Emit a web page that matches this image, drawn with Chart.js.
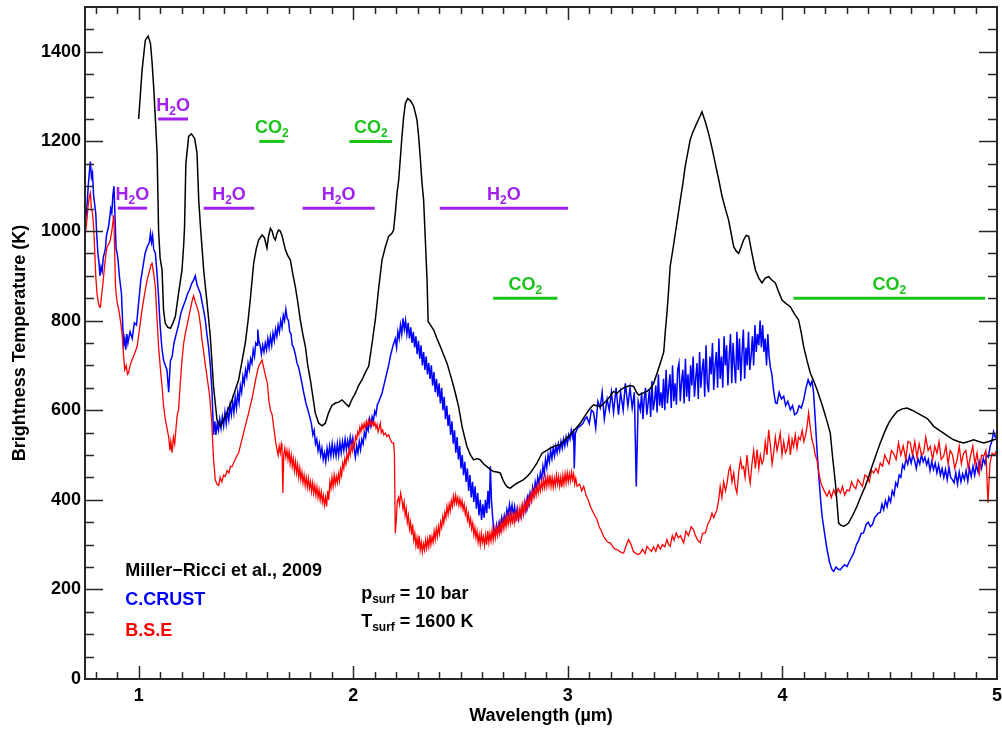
<!DOCTYPE html>
<html>
<head>
<meta charset="utf-8">
<script src="https://cdn.jsdelivr.net/npm/chart.js@4.4.1/dist/chart.umd.min.js"></script>
<style>
  html, body { margin: 0; padding: 0; background: #fff; }
  canvas { display: block; }
</style>
</head>
<body>
<canvas id="chart" width="1002" height="729"></canvas>
<script>
/* ---- data: [wavelength (um), brightness temperature (K)] ---- */
const blackCurve = [
  [1.000,1250],[1.016,1359],[1.031,1426],[1.044,1435],[1.055,1419],[1.062,1380],[1.070,1322],[1.078,1250],
  [1.086,1174],[1.093,1000],[1.100,940],[1.109,913],[1.116,824],[1.124,794],[1.136,785],[1.148,783],
  [1.160,795],[1.171,809],[1.186,861],[1.202,913],[1.210,970],[1.214,1010],[1.220,1150],[1.233,1211],
  [1.246,1217],[1.261,1207],[1.272,1174],[1.280,1069],[1.288,1010],[1.303,913],[1.319,839],[1.334,764],
  [1.349,653],[1.365,579],[1.381,564],[1.392,575],[1.404,586],[1.420,605],[1.435,623],[1.450,645],
  [1.466,668],[1.482,710],[1.497,750],[1.510,800],[1.520,846],[1.536,928],[1.548,960],[1.559,980],
  [1.575,991],[1.586,985],[1.598,962],[1.606,990],[1.614,1006],[1.622,1000],[1.630,985],[1.637,980],
  [1.645,995],[1.652,1002],[1.660,1000],[1.668,990],[1.684,958],[1.695,945],[1.707,935],[1.718,905],
  [1.730,876],[1.742,840],[1.753,802],[1.765,770],[1.777,742],[1.788,700],[1.800,668],[1.812,630],
  [1.823,594],[1.839,571],[1.855,565],[1.870,571],[1.885,594],[1.900,610],[1.917,616],[1.932,618],
  [1.948,623],[1.964,615],[1.979,608],[1.995,625],[2.010,638],[2.025,655],[2.041,668],[2.057,685],
  [2.072,698],[2.088,750],[2.103,802],[2.118,870],[2.134,935],[2.150,965],[2.165,988],[2.180,995],
  [2.188,1002],[2.196,1040],[2.204,1084],[2.212,1114],[2.219,1159],[2.227,1211],[2.235,1255],[2.243,1285],
  [2.254,1296],[2.268,1290],[2.282,1278],[2.297,1248],[2.305,1210],[2.313,1159],[2.320,1110],[2.328,1069],
  [2.336,980],[2.344,891],[2.349,798],[2.360,790],[2.375,779],[2.390,760],[2.406,742],[2.420,725],
  [2.437,705],[2.452,680],[2.468,653],[2.480,630],[2.491,608],[2.507,564],[2.519,540],[2.530,519],
  [2.546,500],[2.561,489],[2.577,492],[2.592,489],[2.608,480],[2.623,474],[2.638,468],[2.654,463],
  [2.670,462],[2.685,460],[2.697,445],[2.709,434],[2.720,428],[2.732,426],[2.748,432],[2.763,437],
  [2.779,441],[2.794,445],[2.810,452],[2.825,460],[2.840,470],[2.856,482],[2.870,495],[2.880,504],
  [2.900,510],[2.918,515],[2.940,520],[2.965,523],[2.988,535],[3.011,545],[3.035,558],[3.058,571],
  [3.073,582],[3.089,594],[3.105,605],[3.120,612],[3.135,610],[3.151,608],[3.167,615],[3.183,623],
  [3.198,632],[3.213,642],[3.230,638],[3.245,645],[3.260,650],[3.276,653],[3.290,655],[3.307,653],
  [3.320,640],[3.330,634],[3.350,638],[3.369,642],[3.384,648],[3.400,660],[3.416,683],[3.431,705],
  [3.447,730],[3.455,780],[3.462,817],[3.470,870],[3.477,921],[3.490,960],[3.501,995],[3.512,1030],
  [3.524,1069],[3.536,1105],[3.547,1144],[3.559,1175],[3.570,1203],[3.582,1220],[3.594,1233],[3.605,1245],
  [3.615,1255],[3.625,1266],[3.640,1245],[3.656,1218],[3.672,1185],[3.687,1151],[3.703,1115],[3.719,1077],
  [3.734,1050],[3.749,1025],[3.761,995],[3.773,965],[3.785,955],[3.796,950],[3.808,965],[3.819,980],
  [3.831,990],[3.843,988],[3.858,950],[3.874,913],[3.890,895],[3.905,884],[3.920,895],[3.936,898],
  [3.952,890],[3.967,884],[3.982,865],[3.998,846],[4.017,838],[4.037,831],[4.056,815],[4.075,802],
  [4.087,775],[4.099,742],[4.115,710],[4.130,683],[4.146,665],[4.161,646],[4.176,625],[4.192,601],
  [4.208,575],[4.223,549],[4.235,490],[4.247,437],[4.255,390],[4.262,348],[4.273,343],[4.285,341],
  [4.297,344],[4.308,348],[4.327,365],[4.347,385],[4.366,408],[4.386,430],[4.402,452],[4.417,474],
  [4.436,500],[4.456,527],[4.475,550],[4.495,571],[4.514,585],[4.534,597],[4.558,603],[4.581,605],
  [4.604,600],[4.627,594],[4.650,588],[4.674,582],[4.690,573],[4.705,564],[4.728,556],[4.751,549],
  [4.774,541],[4.798,534],[4.820,530],[4.844,527],[4.868,530],[4.891,534],[4.915,530],[4.938,527],
  [4.962,530],[4.984,534],[5.000,536]
];

const crustCurve = [
  [0.750,1010],[0.760,1060],[0.765,1100],[0.770,1130],[0.775,1155],[0.780,1120],[0.785,1130],[0.790,1080],
  [0.795,1060],[0.800,1040],[0.805,990],[0.810,950],[0.815,930],[0.820,900],[0.825,920],[0.830,910],
  [0.835,940],[0.840,950],[0.845,960],[0.850,990],[0.855,1000],[0.860,1010],[0.865,1030],[0.870,1050],
  [0.875,1040],[0.880,1080],[0.885,1100],[0.890,1030],[0.895,960],[0.900,950],[0.905,930],[0.910,900],
  [0.915,880],[0.920,860],[0.925,800],[0.930,745],[0.935,760],[0.940,735],[0.945,770],[0.950,750],
  [0.960,775],[0.970,760],[0.980,795],[0.990,790],[1.000,840],[1.010,890],[1.020,920],[1.030,950],
  [1.040,965],[1.050,975],[1.055,995],[1.060,975],[1.065,990],[1.070,960],[1.078,950],[1.085,910],
  [1.092,860],[1.100,790],[1.108,740],[1.116,712],[1.124,700],[1.132,690],[1.140,640],[1.148,710],
  [1.156,720],[1.165,750],[1.175,770],[1.186,790],[1.196,815],[1.206,830],[1.218,845],[1.228,860],
  [1.238,870],[1.249,885],[1.256,890],[1.264,900],[1.272,880],[1.280,870],[1.288,860],[1.296,840],
  [1.304,820],[1.311,800],[1.318,770],[1.326,740],[1.334,700],[1.342,640],[1.349,545],[1.355,575],
  [1.360,545],[1.366,570],[1.372,555],[1.378,580],[1.384,560],[1.390,585],[1.396,565],[1.402,595],
  [1.408,570],[1.414,598],[1.420,578],[1.426,610],[1.432,590],[1.438,620],[1.444,595],[1.450,628],
  [1.456,605],[1.462,640],[1.468,618],[1.474,655],[1.480,640],[1.486,675],[1.492,660],[1.498,690],
  [1.504,675],[1.510,705],[1.516,690],[1.522,715],[1.528,705],[1.534,735],[1.540,720],[1.546,750],
  [1.552,745],[1.555,780],[1.560,755],[1.566,745],[1.572,725],[1.578,745],[1.584,730],[1.590,750],
  [1.596,735],[1.602,760],[1.608,740],[1.614,765],[1.620,745],[1.626,772],[1.632,755],[1.638,780],
  [1.644,765],[1.650,790],[1.656,775],[1.662,800],[1.668,785],[1.674,812],[1.680,800],[1.686,825],
  [1.692,805],[1.698,800],[1.704,775],[1.710,770],[1.716,745],[1.722,740],[1.730,725],[1.738,705],
  [1.746,695],[1.757,670],[1.769,640],[1.780,615],[1.792,595],[1.805,570],[1.812,545],[1.818,555],
  [1.824,525],[1.830,535],[1.836,510],[1.842,525],[1.848,500],[1.854,515],[1.860,490],[1.866,505],
  [1.872,485],[1.878,515],[1.884,495],[1.890,520],[1.896,498],[1.902,525],[1.908,500],[1.914,520],
  [1.920,498],[1.926,525],[1.932,500],[1.938,528],[1.944,505],[1.950,530],[1.956,510],[1.962,535],
  [1.968,512],[1.974,532],[1.980,515],[1.986,540],[1.992,520],[1.998,538],[2.004,515],[2.010,495],
  [2.016,520],[2.022,505],[2.028,530],[2.034,512],[2.040,535],[2.046,525],[2.052,550],[2.058,540],
  [2.064,565],[2.070,555],[2.076,580],[2.082,565],[2.088,585],[2.094,575],[2.100,598],[2.106,590],
  [2.112,612],[2.120,620],[2.134,638],[2.145,660],[2.155,680],[2.165,700],[2.175,725],[2.186,745],
  [2.196,760],[2.202,740],[2.208,775],[2.214,760],[2.220,790],[2.226,770],[2.232,805],[2.238,780],
  [2.244,800],[2.250,770],[2.256,795],[2.262,760],[2.268,785],[2.274,750],[2.280,775],[2.286,740],
  [2.292,765],[2.298,725],[2.304,755],[2.310,715],[2.316,745],[2.322,700],[2.328,730],[2.334,690],
  [2.340,720],[2.346,680],[2.352,705],[2.358,670],[2.364,700],[2.370,655],[2.376,685],[2.382,640],
  [2.388,670],[2.394,630],[2.400,660],[2.406,615],[2.412,650],[2.418,600],[2.424,630],[2.430,580],
  [2.436,610],[2.442,565],[2.448,590],[2.454,545],[2.460,575],[2.466,525],[2.472,555],[2.478,505],
  [2.484,540],[2.490,490],[2.496,520],[2.502,470],[2.508,500],[2.514,455],[2.520,485],[2.526,440],
  [2.532,470],[2.538,420],[2.544,455],[2.550,405],[2.556,440],[2.562,395],[2.568,430],[2.574,380],
  [2.580,415],[2.586,365],[2.592,400],[2.598,355],[2.604,390],[2.610,360],[2.616,400],[2.622,370],
  [2.628,420],[2.634,380],[2.639,475],[2.644,400],[2.650,360],[2.655,330],[2.662,322],[2.668,345],
  [2.674,330],[2.680,350],[2.686,335],[2.692,360],[2.698,345],[2.704,365],[2.710,350],[2.716,378],
  [2.722,365],[2.728,390],[2.734,370],[2.740,388],[2.746,365],[2.752,385],[2.758,360],[2.764,380],
  [2.770,358],[2.776,375],[2.782,362],[2.788,385],[2.794,370],[2.800,395],[2.806,380],[2.812,405],
  [2.818,390],[2.824,415],[2.830,400],[2.836,428],[2.842,412],[2.848,440],[2.854,425],[2.860,450],
  [2.866,435],[2.872,460],[2.878,445],[2.884,475],[2.890,458],[2.896,490],[2.902,472],[2.908,500],
  [2.914,485],[2.920,510],[2.926,492],[2.932,515],[2.938,498],[2.944,520],[2.950,505],[2.956,525],
  [2.962,510],[2.968,530],[2.974,515],[2.980,535],[2.986,520],[2.992,540],[2.998,525],[3.004,545],
  [3.010,535],[3.016,555],[3.022,540],[3.027,558],[3.030,470],[3.035,548],[3.045,560],[3.058,565],
  [3.070,570],[3.080,580],[3.089,585],[3.100,570],[3.110,600],[3.120,595],[3.130,560],[3.140,620],
  [3.151,605],[3.160,640],[3.170,580],[3.183,625],[3.193,600],[3.203,640],[3.213,595],[3.225,650],
  [3.236,590],[3.246,640],[3.258,600],[3.268,660],[3.280,610],[3.290,650],[3.300,605],[3.310,640],
  [3.319,430],[3.328,620],[3.338,600],[3.344,640],[3.350,580],[3.356,625],[3.362,650],[3.368,590],
  [3.374,615],[3.380,645],[3.386,585],[3.392,665],[3.398,600],[3.404,620],[3.410,655],[3.416,595],
  [3.422,680],[3.428,610],[3.434,640],[3.440,605],[3.446,670],[3.452,600],[3.458,690],[3.464,615],
  [3.470,650],[3.476,680],[3.482,605],[3.488,700],[3.494,620],[3.500,660],[3.506,612],[3.512,690],
  [3.518,705],[3.524,620],[3.530,665],[3.536,690],[3.542,615],[3.548,715],[3.554,630],[3.560,680],
  [3.566,620],[3.572,700],[3.578,655],[3.584,720],[3.590,630],[3.596,670],[3.602,705],[3.608,625],
  [3.614,730],[3.620,650],[3.626,690],[3.632,715],[3.638,630],[3.644,745],[3.650,660],[3.656,640],
  [3.662,720],[3.668,680],[3.674,750],[3.680,645],[3.686,700],[3.692,730],[3.698,650],[3.704,760],
  [3.710,670],[3.716,720],[3.722,650],[3.728,765],[3.734,700],[3.740,745],[3.746,655],[3.752,720],
  [3.758,770],[3.764,660],[3.770,750],[3.776,700],[3.782,660],[3.788,775],[3.794,690],[3.800,760],
  [3.806,665],[3.812,730],[3.818,780],[3.824,670],[3.830,740],[3.836,700],[3.842,775],[3.848,690],
  [3.854,720],[3.860,765],[3.866,700],[3.872,790],[3.878,730],[3.884,770],[3.890,745],[3.896,800],
  [3.902,740],[3.908,790],[3.914,730],[3.920,760],[3.926,700],[3.932,770],[3.938,720],[3.944,695],
  [3.950,683],[3.960,640],[3.968,616],[3.975,615],[3.985,640],[3.995,625],[4.006,631],[4.015,610],
  [4.025,620],[4.037,601],[4.047,610],[4.057,590],[4.068,594],[4.078,610],[4.088,605],[4.099,623],
  [4.110,650],[4.120,668],[4.130,655],[4.138,665],[4.145,640],[4.153,580],[4.161,512],[4.170,450],
  [4.178,400],[4.185,363],[4.195,330],[4.208,289],[4.220,260],[4.230,245],[4.239,240],[4.250,250],
  [4.260,245],[4.270,244],[4.280,250],[4.290,255],[4.301,251],[4.315,265],[4.332,281],[4.345,300],
  [4.356,310],[4.367,325],[4.378,326],[4.390,345],[4.400,350],[4.410,340],[4.420,345],[4.430,360],
  [4.446,370],[4.456,372],[4.464,390],[4.472,378],[4.480,398],[4.488,385],[4.496,405],[4.504,395],
  [4.512,420],[4.520,410],[4.528,438],[4.536,430],[4.544,455],[4.552,450],[4.560,478],[4.568,470],
  [4.576,492],[4.584,480],[4.592,498],[4.600,482],[4.608,500],[4.616,488],[4.624,470],[4.632,492],
  [4.640,480],[4.648,500],[4.656,485],[4.664,495],[4.672,478],[4.680,490],[4.688,465],[4.696,485],
  [4.704,468],[4.712,482],[4.720,460],[4.728,478],[4.736,455],[4.744,470],[4.752,450],[4.760,468],
  [4.768,445],[4.776,472],[4.784,450],[4.792,445],[4.800,438],[4.808,460],[4.816,435],[4.824,462],
  [4.832,440],[4.840,458],[4.848,445],[4.856,465],[4.864,442],[4.872,470],[4.880,452],[4.888,475],
  [4.896,455],[4.904,478],[4.912,462],[4.920,485],[4.928,470],[4.936,492],[4.944,480],[4.952,500],
  [4.960,495],[4.968,520],[4.976,530],[4.984,552],[4.992,540],[5.000,545]
];

const bseCurve = [
  [0.750,985],[0.760,1030],[0.765,1060],[0.770,1075],[0.775,1085],[0.780,1050],[0.785,1040],[0.790,1010],
  [0.795,960],[0.800,900],[0.806,860],[0.812,840],[0.818,830],[0.822,830],[0.828,860],[0.833,880],
  [0.837,900],[0.843,930],[0.848,950],[0.853,965],[0.860,970],[0.868,980],[0.875,1000],[0.880,1020],
  [0.884,1035],[0.888,960],[0.892,880],[0.895,860],[0.900,840],[0.907,825],[0.915,800],[0.923,770],
  [0.930,720],[0.935,690],[0.942,700],[0.948,680],[0.953,683],[0.960,700],[0.969,712],[0.980,725],
  [0.993,742],[1.005,785],[1.016,825],[1.028,860],[1.039,890],[1.050,910],[1.058,925],[1.062,930],
  [1.070,905],[1.078,875],[1.085,810],[1.093,742],[1.100,700],[1.109,653],[1.116,610],[1.124,580],
  [1.132,560],[1.140,540],[1.146,510],[1.150,530],[1.156,505],[1.162,540],[1.168,525],[1.175,565],
  [1.180,590],[1.186,600],[1.194,660],[1.202,712],[1.210,750],[1.218,772],[1.230,800],[1.241,825],
  [1.250,845],[1.256,855],[1.265,840],[1.272,830],[1.280,817],[1.288,790],[1.295,757],[1.303,730],
  [1.311,700],[1.320,670],[1.330,635],[1.340,580],[1.349,490],[1.357,445],[1.365,435],[1.373,432],
  [1.380,450],[1.388,440],[1.396,455],[1.404,452],[1.412,465],[1.420,460],[1.428,475],[1.435,474],
  [1.445,485],[1.455,495],[1.466,505],[1.476,525],[1.487,545],[1.497,565],[1.508,585],[1.518,605],
  [1.528,625],[1.538,650],[1.548,675],[1.559,698],[1.567,705],[1.575,712],[1.585,690],[1.592,675],
  [1.600,660],[1.607,620],[1.614,600],[1.622,590],[1.630,560],[1.638,530],[1.645,512],[1.650,500],
  [1.655,520],[1.660,505],[1.665,525],[1.668,519],[1.672,415],[1.676,500],[1.681,515],[1.686,495],
  [1.691,510],[1.696,490],[1.701,508],[1.706,480],[1.711,500],[1.716,475],[1.721,492],[1.726,465],
  [1.731,485],[1.736,460],[1.741,478],[1.746,450],[1.751,470],[1.756,445],[1.761,462],[1.766,438],
  [1.771,455],[1.776,432],[1.781,450],[1.786,428],[1.791,448],[1.796,425],[1.801,440],[1.806,418],
  [1.811,438],[1.816,415],[1.821,432],[1.826,410],[1.831,428],[1.836,405],[1.841,422],[1.846,400],
  [1.851,418],[1.856,395],[1.861,410],[1.866,388],[1.871,405],[1.876,385],[1.881,420],[1.886,400],
  [1.891,440],[1.896,425],[1.901,450],[1.906,430],[1.911,455],[1.916,435],[1.921,452],[1.926,438],
  [1.931,458],[1.936,442],[1.941,468],[1.946,455],[1.951,482],[1.956,470],[1.961,492],[1.966,480],
  [1.971,502],[1.976,490],[1.981,512],[1.986,500],[1.991,522],[1.996,510],[2.001,530],[2.006,520],
  [2.011,542],[2.016,535],[2.021,552],[2.026,545],[2.031,562],[2.036,552],[2.041,568],[2.046,558],
  [2.051,570],[2.056,560],[2.061,575],[2.066,565],[2.071,578],[2.076,568],[2.081,576],[2.086,565],
  [2.091,574],[2.096,566],[2.101,572],[2.106,560],[2.111,568],[2.116,552],[2.121,560],[2.126,571],
  [2.131,550],[2.137,556],[2.142,545],[2.150,549],[2.157,541],[2.165,545],[2.172,535],[2.181,527],
  [2.188,527],[2.192,500],[2.196,325],[2.200,350],[2.205,395],[2.211,405],[2.216,390],[2.221,415],
  [2.227,400],[2.232,380],[2.237,395],[2.242,365],[2.247,380],[2.252,350],[2.257,365],[2.262,335],
  [2.267,350],[2.272,322],[2.277,345],[2.282,310],[2.287,325],[2.292,298],[2.297,315],[2.302,290],
  [2.307,320],[2.312,288],[2.317,305],[2.322,283],[2.327,302],[2.332,288],[2.337,310],[2.342,292],
  [2.347,312],[2.352,295],[2.357,322],[2.362,300],[2.367,318],[2.372,305],[2.377,330],[2.382,312],
  [2.387,335],[2.392,318],[2.397,340],[2.402,325],[2.407,350],[2.412,338],[2.417,362],[2.422,348],
  [2.427,372],[2.432,360],[2.437,385],[2.442,368],[2.447,390],[2.452,375],[2.457,398],[2.462,385],
  [2.467,408],[2.472,392],[2.477,410],[2.482,392],[2.487,405],[2.492,388],[2.497,402],[2.502,385],
  [2.507,398],[2.512,378],[2.517,390],[2.522,368],[2.527,380],[2.532,355],[2.537,368],[2.542,345],
  [2.547,358],[2.552,335],[2.557,348],[2.562,322],[2.567,338],[2.572,315],[2.577,330],[2.582,305],
  [2.587,322],[2.592,300],[2.597,325],[2.602,305],[2.607,318],[2.612,298],[2.617,322],[2.622,300],
  [2.627,330],[2.632,305],[2.637,325],[2.642,308],[2.647,332],[2.652,310],[2.657,335],[2.662,315],
  [2.667,338],[2.672,320],[2.677,342],[2.682,325],[2.687,348],[2.692,330],[2.697,352],[2.702,335],
  [2.707,358],[2.712,340],[2.717,362],[2.722,345],[2.727,366],[2.732,348],[2.737,368],[2.742,345],
  [2.747,372],[2.752,350],[2.757,375],[2.762,352],[2.767,378],[2.772,358],[2.777,382],[2.782,362],
  [2.787,388],[2.792,368],[2.797,392],[2.802,375],[2.807,398],[2.812,382],[2.817,405],[2.822,390],
  [2.827,412],[2.832,398],[2.837,420],[2.842,405],[2.847,425],[2.852,410],[2.857,430],[2.862,415],
  [2.867,435],[2.872,420],[2.877,440],[2.882,425],[2.887,445],[2.892,428],[2.897,450],[2.902,430],
  [2.907,452],[2.912,432],[2.917,455],[2.922,430],[2.927,450],[2.932,428],[2.937,448],[2.942,432],
  [2.947,455],[2.952,435],[2.957,452],[2.962,430],[2.967,450],[2.972,428],[2.977,455],[2.982,435],
  [2.987,458],[2.992,438],[2.997,460],[3.002,440],[3.007,458],[3.012,442],[3.017,462],[3.022,445],
  [3.027,458],[3.032,435],[3.037,448],[3.043,430],[3.055,435],[3.065,420],[3.074,430],[3.085,410],
  [3.095,400],[3.105,385],[3.115,375],[3.125,365],[3.136,356],[3.146,340],[3.157,330],[3.167,318],
  [3.178,310],[3.188,305],[3.198,304],[3.210,295],[3.220,290],[3.229,289],[3.240,285],[3.250,282],
  [3.260,281],[3.270,295],[3.283,311],[3.295,300],[3.305,285],[3.318,280],[3.330,278],[3.338,281],
  [3.348,290],[3.360,280],[3.369,296],[3.380,290],[3.390,285],[3.400,295],[3.410,285],[3.420,300],
  [3.431,290],[3.441,300],[3.452,295],[3.462,311],[3.470,300],[3.477,296],[3.487,320],[3.495,310],
  [3.505,326],[3.515,315],[3.525,320],[3.540,304],[3.550,330],[3.562,320],[3.575,340],[3.586,333],
  [3.595,320],[3.605,310],[3.617,304],[3.628,325],[3.641,326],[3.652,345],[3.663,356],[3.672,370],
  [3.680,360],[3.695,378],[3.703,400],[3.710,430],[3.718,405],[3.726,440],[3.735,420],[3.742,437],
  [3.750,465],[3.757,474],[3.765,440],[3.773,460],[3.780,430],[3.788,415],[3.796,460],[3.805,490],
  [3.812,470],[3.819,474],[3.826,450],[3.835,500],[3.843,460],[3.850,437],[3.858,480],[3.866,510],
  [3.874,470],[3.882,512],[3.890,470],[3.897,500],[3.905,480],[3.912,489],[3.920,530],[3.928,500],
  [3.936,556],[3.944,520],[3.952,480],[3.959,504],[3.967,540],[3.975,510],[3.983,530],[3.990,549],
  [3.998,500],[4.006,530],[4.014,505],[4.021,512],[4.030,540],[4.037,500],[4.045,535],[4.052,519],
  [4.060,545],[4.068,515],[4.075,540],[4.083,534],[4.092,555],[4.100,530],[4.108,545],[4.115,564],
  [4.122,594],[4.130,560],[4.138,534],[4.146,520],[4.153,500],[4.161,489],[4.170,460],[4.178,440],
  [4.185,430],[4.195,420],[4.208,408],[4.218,420],[4.228,405],[4.239,422],[4.250,410],[4.260,425],
  [4.270,415],[4.280,430],[4.290,410],[4.301,422],[4.312,420],[4.322,440],[4.332,430],[4.342,425],
  [4.352,445],[4.363,437],[4.373,430],[4.384,455],[4.394,452],[4.405,440],[4.415,465],[4.425,460],
  [4.436,470],[4.446,460],[4.456,482],[4.467,475],[4.477,500],[4.487,489],[4.497,480],[4.508,510],
  [4.518,504],[4.530,490],[4.541,527],[4.552,500],[4.563,520],[4.575,490],[4.585,530],[4.596,527],
  [4.606,500],[4.617,530],[4.627,495],[4.637,525],[4.648,500],[4.658,504],[4.668,540],[4.679,510],
  [4.689,519],[4.700,490],[4.710,520],[4.720,504],[4.730,530],[4.740,490],[4.751,497],[4.762,520],
  [4.772,480],[4.782,510],[4.793,500],[4.803,470],[4.814,489],[4.824,520],[4.834,480],[4.844,504],
  [4.855,510],[4.866,470],[4.876,497],[4.887,520],[4.897,480],[4.907,505],[4.918,460],[4.928,500],
  [4.938,497],[4.948,510],[4.958,393],[4.967,480],[4.977,504],[4.988,500],[5.000,512]
];

// absorption bands: [from um, to um, level K]
const h2oBands = [[0.903,1.039,1051],[1.091,1.230,1250],[1.303,1.539,1051],[1.764,2.100,1051],[2.403,3.001,1051]];
const co2Bands = [[1.562,1.680,1200],[1.982,2.181,1200],[2.652,2.951,850],[4.052,4.945,850]];

const xTicks = [1, 2, 3, 4, 5];
const yTicks = [0, 200, 400, 600, 800, 1000, 1200, 1400];

/* ---- styling ---- */
const FONT_FAMILY = '"Liberation Sans", Arial, Helvetica, sans-serif';
const MAIN_FONT = 'bold 18px ' + FONT_FAMILY;
const SUB_FONT = 'bold 12px ' + FONT_FAMILY;
const PURPLE = '#a020f0';
const GREEN = '#18c418';

const toXY = arr => arr.map(p => ({ x: p[0], y: p[1] }));

// text made of normal and subscript pieces
function drawRich(ctx, parts, x, y, color, align) {
  let w = 0;
  parts.forEach(([t, sub]) => { ctx.font = sub ? SUB_FONT : MAIN_FONT; w += ctx.measureText(t).width; });
  let cx = align === 'center' ? x - w / 2 : x;
  ctx.fillStyle = color;
  ctx.textAlign = 'left';
  ctx.textBaseline = 'alphabetic';
  parts.forEach(([t, sub]) => {
    ctx.font = sub ? SUB_FONT : MAIN_FONT;
    ctx.fillText(t, cx, sub ? y + 4 : y);
    cx += ctx.measureText(t).width;
  });
}

/* frame with inward ticks on all four sides */
const frameTicks = {
  id: 'frameTicks',
  afterDatasetsDraw(chart) {
    const { ctx, chartArea: a, scales: { x, y } } = chart;
    ctx.save();
    ctx.strokeStyle = '#262626';
    ctx.lineWidth = 1.5;
    ctx.beginPath();
    for (let i = 8; i < 50; i++) {
      const px = Math.round(x.getPixelForValue(i / 10)) + 0.5;
      const len = i % 10 === 0 ? 13 : 7;
      ctx.moveTo(px, a.bottom); ctx.lineTo(px, a.bottom - len);
      ctx.moveTo(px, a.top); ctx.lineTo(px, a.top + len);
    }
    for (let v = 50; v < 1500; v += 50) {
      const py = Math.round(y.getPixelForValue(v)) + 0.5;
      const len = v % 200 === 0 ? 18 : 9;
      ctx.moveTo(a.left, py); ctx.lineTo(a.left + len, py);
      ctx.moveTo(a.right, py); ctx.lineTo(a.right - len, py);
    }
    ctx.stroke();
    ctx.lineWidth = 2;
    ctx.strokeRect(a.left, a.top, a.right - a.left, a.bottom - a.top);
    ctx.restore();
  }
};

/* band markers and notes */
const notes = {
  id: 'notes',
  afterDatasetsDraw(chart) {
    const { ctx, scales: { x, y } } = chart;
    ctx.save();
    const bands = [
      ...h2oBands.map(b => [b, PURPLE, [['H', 0], ['2', 1], ['O', 0]]]),
      ...co2Bands.map(b => [b, GREEN, [['CO', 0], ['2', 1]]])
    ];
    bands.forEach(([b, color, parts]) => {
      const x0 = x.getPixelForValue(b[0]), x1 = x.getPixelForValue(b[1]);
      const py = y.getPixelForValue(b[2]);
      ctx.strokeStyle = color;
      ctx.lineWidth = 3;
      ctx.beginPath(); ctx.moveTo(x0, py); ctx.lineTo(x1, py); ctx.stroke();
      drawRich(ctx, parts, (x0 + x1) / 2, py - 8, color, 'center');
    });

    const lx = x.getPixelForValue(0.938);
    drawRich(ctx, [['Miller\u2212Ricci et al., 2009', 0]], lx, y.getPixelForValue(230), '#000', 'left');
    drawRich(ctx, [['C.CRUST', 0]], lx, y.getPixelForValue(166), '#0000ff', 'left');
    drawRich(ctx, [['B.S.E', 0]], lx, y.getPixelForValue(97), '#ff0000', 'left');

    const px = x.getPixelForValue(2.037);
    drawRich(ctx, [['p', 0], ['surf', 1], [' = 10 bar', 0]], px, y.getPixelForValue(178), '#000', 'left');
    drawRich(ctx, [['T', 0], ['surf', 1], [' = 1600 K', 0]], px, y.getPixelForValue(115), '#000', 'left');
    ctx.restore();
  }
};

const tickFont = { family: FONT_FAMILY, size: 18, weight: 'bold' };

new Chart(document.getElementById('chart'), {
  type: 'line',
  data: {
    datasets: [
      { label: 'Miller-Ricci et al., 2009', data: toXY(blackCurve), borderColor: '#000000', borderWidth: 1.5 },
      { label: 'B.S.E', data: toXY(bseCurve), borderColor: '#ff0000', borderWidth: 1.3 },
      { label: 'C.CRUST', data: toXY(crustCurve), borderColor: '#0000ff', borderWidth: 1.5 }
    ]
  },
  options: {
    responsive: false,
    animation: false,
    devicePixelRatio: 1,
    layout: { padding: { top: 7, right: 5, left: 0, bottom: 0 } },
    elements: { point: { radius: 0 }, line: { tension: 0 } },
    plugins: { legend: { display: false }, tooltip: { enabled: false } },
    scales: {
      x: {
        type: 'linear', min: 0.75, max: 5,
        grid: { display: false, drawTicks: false },
        border: { display: false },
        ticks: { font: tickFont, color: '#000', padding: 6, maxRotation: 0, callback: v => String(v) },
        afterBuildTicks: s => { s.ticks = xTicks.map(v => ({ value: v })); },
        afterFit: s => { s.height = 50; s.paddingLeft = 0; s.paddingRight = 0; },
        title: { display: true, text: 'Wavelength (\u00b5m)', color: '#000', font: tickFont, padding: { top: 0, bottom: 2 } }
      },
      y: {
        type: 'linear', min: 0, max: 1500,
        grid: { display: false, drawTicks: false },
        border: { display: false },
        ticks: { font: tickFont, color: '#000', padding: 4, callback: v => String(v) },
        afterBuildTicks: s => { s.ticks = yTicks.map(v => ({ value: v })); },
        afterFit: s => { s.width = 85; s.paddingTop = 0; s.paddingBottom = 0; },
        title: { display: true, text: 'Brightness Temperature (K)', color: '#000', font: tickFont, padding: { top: 9, bottom: 0 } }
      }
    }
  },
  plugins: [notes, frameTicks]
});
</script>
</body>
</html>
